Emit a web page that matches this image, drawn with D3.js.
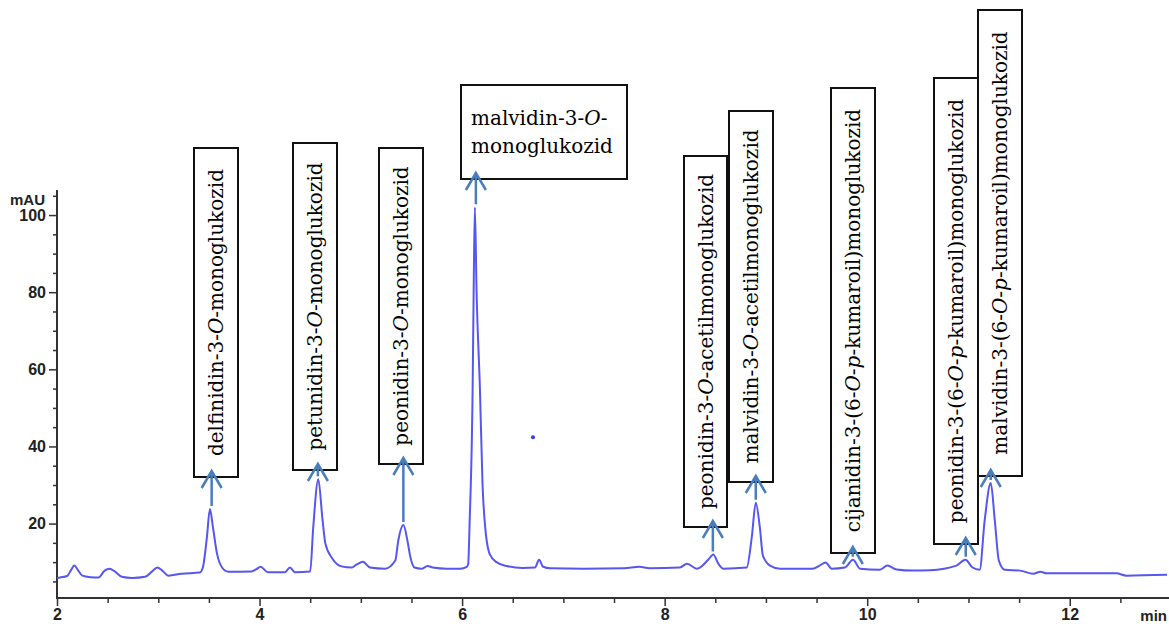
<!DOCTYPE html>
<html>
<head>
<meta charset="utf-8">
<script src="https://cdn.jsdelivr.net/npm/d3@7"></script>
<style>
  html, body { margin: 0; padding: 0; background: #fff; }
  #chart { width: 1169px; height: 626px; overflow: hidden; }
  .axis text { font-family: "Liberation Sans", Arial, sans-serif; font-weight: bold; font-size: 16px; fill: #222; }
  .label text { font-family: "DejaVu Serif", serif; font-size: 20px; fill: #000; }
</style>
</head>
<body>
<div id="chart"></div>
<script>
// 色谱数据 (retention time, min / signal, mAU)
const traceTime = [
  2.00, 2.03, 2.10, 2.14, 2.17, 2.21, 2.25, 2.33, 2.41, 2.47, 2.52, 2.57, 2.64, 2.74, 2.87, 2.94,
  2.99, 3.04, 3.10, 3.23, 3.41, 3.44, 3.48, 3.51, 3.54, 3.58, 3.63, 3.69, 3.92, 3.97, 4.01, 4.08,
  4.25, 4.30, 4.35, 4.50, 4.53, 4.58, 4.62, 4.65, 4.72, 4.81, 4.91, 4.96, 5.02, 5.09, 5.24, 5.34,
  5.37, 5.42, 5.46, 5.49, 5.53, 5.60, 5.66, 5.71, 5.85, 5.98, 6.047, 6.06, 6.074, 6.104, 6.114, 6.126,
  6.143, 6.176, 6.202, 6.225, 6.274, 6.34, 6.44, 6.60, 6.72, 6.76, 6.80, 6.87, 7.20, 7.60, 7.75, 7.85,
  8.15, 8.22, 8.32, 8.43, 8.48, 8.53, 8.58, 8.81, 8.86, 8.90, 8.94, 8.97, 9.04, 9.14, 9.46, 9.53,
  9.59, 9.65, 9.78, 9.86, 9.93, 10.12, 10.20, 10.29, 10.45, 10.62, 10.88, 10.97, 11.04, 11.11, 11.16, 11.22,
  11.26, 11.30, 11.36, 11.51, 11.64, 11.71, 11.77, 12.13, 12.46, 12.56, 12.96
];
const traceSignal = [
  5.8, 6.0, 6.4, 8.0, 9.1, 7.8, 6.5, 6.1, 6.0, 7.8, 8.3, 7.6, 6.2, 5.9, 6.2, 7.6,
  8.6, 7.8, 6.5, 7.0, 7.3, 8.6, 16.4, 23.8, 19.0, 12.2, 8.6, 7.5, 7.6, 8.2, 8.8, 7.4,
  7.4, 8.6, 7.4, 7.6, 19.0, 31.5, 21.5, 14.8, 10.9, 8.9, 8.6, 9.4, 10.1, 8.6, 8.3, 10.4,
  15.6, 19.6, 15.6, 11.2, 8.6, 8.3, 9.0, 8.6, 8.3, 8.3, 8.8, 9.5, 20, 55, 80, 102,
  80, 55, 30, 20, 12, 10, 9.0, 8.5, 8.6, 10.6, 8.8, 8.4, 8.3, 8.4, 8.8, 8.4,
  8.6, 9.6, 8.3, 10.6, 12.0, 9.6, 8.3, 8.6, 16.4, 25.4, 19.0, 11.7, 9.1, 8.3, 8.3, 9.1,
  9.9, 8.3, 8.6, 10.6, 8.3, 8.0, 9.1, 8.1, 7.8, 7.9, 9.1, 10.6, 8.6, 8.0, 20.8, 30.5,
  20.8, 10.4, 8.0, 7.8, 7.0, 7.5, 7.1, 7.1, 7.1, 6.5, 6.7
];
const strayPoint = [6.70, 42.4];

// 坐标轴刻度
const xMajorTicks = [2, 4, 6, 8, 10, 12];
const xMinorTicks = d3.range(2.5, 13, 0.5).filter(v => v % 2 !== 0);
const yMajorTicks = [20, 40, 60, 80, 100];
const yMinorTicks = [5, 10, 15, 25, 30, 35, 45, 50, 55, 65, 70, 75, 85, 90, 95, 105];

// 峰标注 ("*" toggles italic, "|" breaks line)
const peakNames = [
  'delfinidin-3-*O*-monoglukozid',
  'petunidin-3-*O*-monoglukozid',
  'peonidin-3-*O*-monoglukozid',
  'malvidin-3-*O*-|monoglukozid',
  'peonidin-3-*O*-acetilmonoglukozid',
  'malvidin-3-*O*-acetilmonoglukozid',
  'cijanidin-3-(6-*O*-*p*-kumaroil)monoglukozid',
  'peonidin-3-(6-*O*-*p*-kumaroil)monoglukozid',
  'malvidin-3-(6-*O*-*p*-kumaroil)monoglukozid'
];
const peakTimes = [3.527, 4.576, 5.42, 6.136, 8.476, 8.90, 9.858, 10.973, 11.22];
const peakHeights = [23.8, 31.5, 19.6, 102, 12.0, 25.4, 10.6, 10.6, 30.5];

// 标注框布局 (px): left, right, top, bottom
const labelBoxes = [
  [194, 238, 148, 477],
  [293, 337, 143, 470],
  [379, 423, 148, 464],
  [461, 627, 85, 179],
  [684, 727, 156, 527],
  [729, 773, 111, 482],
  [831, 875, 88, 553],
  [934, 978, 78, 544],
  [978, 1022, 10, 476]
];

const width = 1169, height = 626;
const svg = d3.select('#chart').append('svg')
  .attr('width', width)
  .attr('height', height)
  .attr('viewBox', [0, 0, width, height]);

const x = d3.scaleLinear().domain([2, 12.98]).range([57, 1169]);
const y = d3.scaleLinear().domain([0.7, 106.5]).range([598, 190]);

/**
 * 追加带斜体片段的文本
 */
function appendRich(textSel, str) {
  str.split('*').forEach((part, i) => {
    if (!part) return;
    textSel.append('tspan')
      .attr('font-style', i % 2 ? 'italic' : null)
      .text(part);
  });
}

// 坐标轴
const axisColor = '#333';
function styleAxis(g) {
  g.select('.domain').remove();
  g.selectAll('.tick line').attr('stroke', axisColor).attr('stroke-width', 1.5);
}

svg.append('g').attr('class', 'axis')
  .attr('transform', 'translate(57,0)')
  .call(d3.axisLeft(y).tickValues(yMinorTicks).tickSize(4).tickFormat(''))
  .call(styleAxis);
svg.append('g').attr('class', 'axis')
  .attr('transform', 'translate(57,0)')
  .call(d3.axisLeft(y).tickValues(yMajorTicks).tickSize(8).tickPadding(3).tickFormat(d3.format('d')))
  .call(styleAxis);

svg.append('g').attr('class', 'axis')
  .attr('transform', 'translate(0,598)')
  .call(d3.axisBottom(x).tickValues(xMinorTicks).tickSize(5).tickFormat(''))
  .call(styleAxis);
svg.append('g').attr('class', 'axis')
  .attr('transform', 'translate(0,598)')
  .call(d3.axisBottom(x).tickValues(xMajorTicks).tickSize(8).tickPadding(3).tickFormat(d3.format('d')))
  .call(styleAxis);

// 轴线
svg.append('line')
  .attr('x1', x.range()[0]).attr('x2', x.range()[0])
  .attr('y1', y.range()[1]).attr('y2', y.range()[0] + 1)
  .attr('stroke', axisColor).attr('stroke-width', 2);
svg.append('line')
  .attr('x1', x.range()[0] - 1).attr('x2', x.range()[1])
  .attr('y1', y.range()[0]).attr('y2', y.range()[0])
  .attr('stroke', axisColor).attr('stroke-width', 2);

const axisLabels = svg.append('g').attr('class', 'axis');
axisLabels.append('text')
  .attr('x', 45).attr('y', 205)
  .attr('text-anchor', 'end')
  .style('font-size', '15px')
  .text('mAU');
axisLabels.append('text')
  .attr('x', 1167).attr('y', 621)
  .attr('text-anchor', 'end')
  .style('font-size', '15px')
  .text('min');

// 色谱曲线
const traceData = traceTime.map((t, i) => [t, traceSignal[i]]);
const line = d3.line()
  .x(d => x(d[0]))
  .y(d => y(d[1]))
  .curve(d3.curveMonotoneX);

svg.append('path')
  .datum(traceData)
  .attr('fill', 'none')
  .attr('stroke', '#5656f0')
  .attr('stroke-width', 2)
  .attr('stroke-linejoin', 'round')
  .attr('d', line);

svg.append('circle')
  .attr('cx', x(strayPoint[0]))
  .attr('cy', y(strayPoint[1]))
  .attr('r', 2)
  .attr('fill', '#3a3ae8');

// 标注框
const labels = svg.append('g').attr('class', 'label');
labelBoxes.forEach((b, i) => {
  const [x0, x1, y0, y1] = b;
  labels.append('rect')
    .attr('x', x0).attr('y', y0)
    .attr('width', x1 - x0).attr('height', y1 - y0)
    .attr('fill', '#fff')
    .attr('stroke', '#111')
    .attr('stroke-width', 2);

  const name = peakNames[i];
  if (name.includes('|')) {
    name.split('|').forEach((ln, k) => {
      const t = labels.append('text')
        .attr('x', x0 + 10)
        .attr('y', y0 + 40 + k * 28);
      appendRich(t, ln);
    });
  } else {
    const cx = (x0 + x1) / 2, cy = (y0 + y1) / 2;
    const t = labels.append('text')
      .attr('transform', `translate(${cx},${cy}) rotate(-90)`)
      .attr('text-anchor', 'middle')
      .attr('dy', '0.35em');
    appendRich(t, name);
  }
});

// 箭头
const arrowColor = '#4a7ebb';
const arrows = svg.append('g')
  .attr('fill', 'none')
  .attr('stroke', arrowColor)
  .attr('stroke-width', 2.5);
peakTimes.forEach((t, i) => {
  const ax = x(t);
  const tip = labelBoxes[i][3] - 6;
  const tail = Math.max(y(peakHeights[i]) - 3, tip + 6);
  arrows.append('path')
    .attr('d', `M${ax},${tail}L${ax},${tip}M${ax - 10},${tip + 17}L${ax},${tip}L${ax + 10},${tip + 17}`);
});
</script>
</body>
</html>
